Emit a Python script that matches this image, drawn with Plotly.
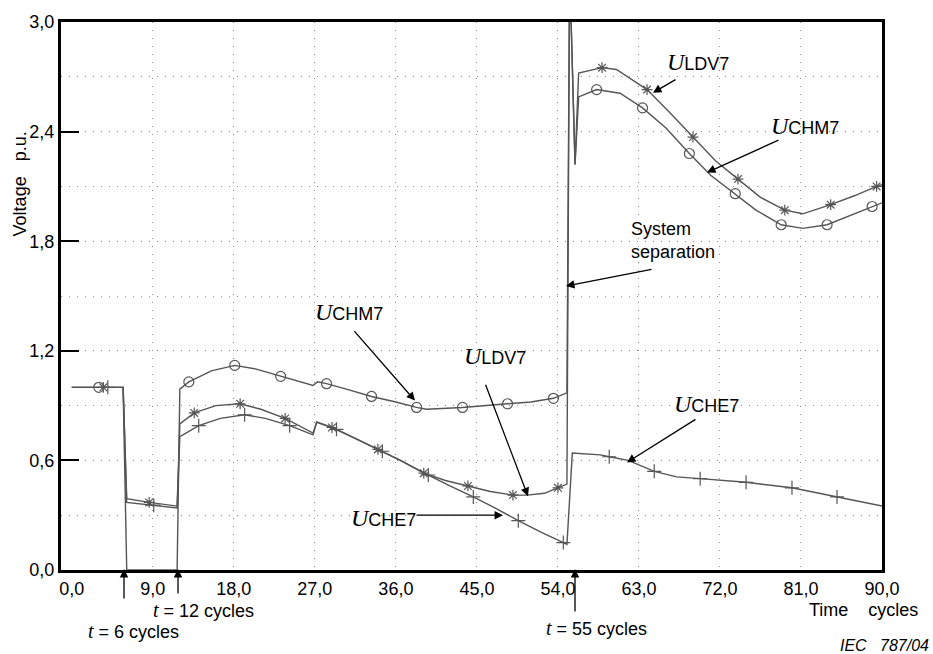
import plotly.graph_objects as go

# ---------------- data ----------------
chm7_x = [0, 5.7, 6.1, 11.7, 12.0, 13.0, 15.5, 18.1, 20.5, 23.2, 25.5, 26.8, 27.3, 28.3,
          30.5, 33.3, 36.0, 38.3, 39.4, 43.4, 48.4, 51.0, 53.5, 55.0, 55.3, 55.9, 56.3,
          58.3, 60.9, 63.4, 66.0, 68.6, 71.0, 73.7, 76.0, 78.8, 81.2, 83.9, 86.5, 88.9, 90.0]
chm7_y = [1.0, 1.0, 0.0, 0.0, 0.99, 1.03, 1.09, 1.12, 1.10, 1.06, 1.03, 1.01, 1.03, 1.02,
          0.99, 0.95, 0.92, 0.89, 0.88, 0.89, 0.91, 0.92, 0.94, 0.97, 3.3, 2.22, 2.59,
          2.63, 2.61, 2.53, 2.42, 2.28, 2.16, 2.06, 1.97, 1.89, 1.87, 1.89, 1.94, 1.99, 2.01]

ldv7_x = [0, 5.7, 6.1, 8.6, 11.7, 12.0, 13.6, 16.0, 18.7, 21.0, 23.7, 26.8, 27.2, 28.9,
          31.5, 34.0, 36.5, 39.1, 41.5, 44.0, 46.5, 49.0, 50.6, 52.5, 54.0, 55.0, 55.3,
          55.9, 56.3, 58.9, 60.5, 63.9, 66.5, 69.0, 71.5, 74.0, 76.5, 79.2, 81.2, 84.3,
          87.0, 89.4, 90.0]
ldv7_y = [1.0, 1.0, 0.39, 0.37, 0.35, 0.80, 0.86, 0.90, 0.91, 0.88, 0.83, 0.75, 0.81, 0.78,
          0.72, 0.66, 0.60, 0.53, 0.49, 0.46, 0.43, 0.41, 0.41, 0.42, 0.45, 0.47, 3.3,
          2.22, 2.72, 2.75, 2.74, 2.63, 2.50, 2.37, 2.24, 2.14, 2.04, 1.97, 1.95, 2.00,
          2.05, 2.10, 2.11]

che7_x = [0, 5.7, 6.1, 9.1, 11.7, 12.0, 14.1, 16.5, 19.2, 21.5, 24.2, 26.8, 27.2, 29.4,
          31.5, 34.5, 36.5, 39.6, 42.0, 44.6, 47.0, 49.6, 52.0, 54.6, 55.0, 55.6, 58.7,
          59.7, 61.8, 64.7, 67.2, 69.8, 74.9, 80.0, 85.0, 90.0]
che7_y = [1.0, 1.0, 0.37, 0.355, 0.34, 0.73, 0.79, 0.83, 0.85, 0.83, 0.79, 0.74, 0.81, 0.77,
          0.72, 0.65, 0.60, 0.52, 0.46, 0.40, 0.34, 0.27, 0.21, 0.15, 0.14, 0.64, 0.63,
          0.62, 0.60, 0.54, 0.51, 0.50, 0.48, 0.45, 0.40, 0.35]

chm7_mx = [3.0, 13.0, 18.1, 23.2, 28.3, 33.3, 38.3, 43.4, 48.4, 53.5, 58.3, 63.4, 68.6,
           73.7, 78.8, 83.9, 88.9]
chm7_my = [1.0, 1.03, 1.12, 1.06, 1.02, 0.95, 0.89, 0.89, 0.91, 0.94, 2.63, 2.53, 2.28,
           2.06, 1.89, 1.89, 1.99]
ldv7_mx = [3.5, 8.6, 13.6, 18.7, 23.7, 28.9, 34.0, 39.1, 44.0, 49.0, 54.0, 58.9, 63.9,
           69.0, 74.0, 79.2, 84.3, 89.4]
ldv7_my = [1.0, 0.37, 0.86, 0.91, 0.83, 0.78, 0.66, 0.53, 0.46, 0.41, 0.45, 2.75, 2.63,
           2.37, 2.14, 1.97, 2.00, 2.10]
che7_mx = [4.0, 9.1, 14.1, 19.2, 24.2, 29.4, 34.5, 39.6, 44.6, 49.6, 54.6, 59.7, 64.7,
           69.8, 74.9, 80.0, 85.0]
che7_my = [1.0, 0.355, 0.79, 0.85, 0.79, 0.77, 0.65, 0.52, 0.40, 0.27, 0.15, 0.62, 0.54,
           0.50, 0.48, 0.45, 0.40]

x_ticks = [0, 9, 18, 27, 36, 45, 54, 63, 72, 81, 90]
x_ticktext = ["0,0", "9,0", "18,0", "27,0", "36,0", "45,0", "54,0", "63,0", "72,0", "81,0", "90,0"]
x_grid = [9, 18, 27, 36, 45, 54, 63, 72, 81]
y_ticks = [0, 0.6, 1.2, 1.8, 2.4, 3.0]
y_ticktext = ["0,0", "0,6", "1,2", "1,8", "2,4", "3,0"]
y_grid = [0.3, 0.6, 0.9, 1.2, 1.5, 1.8, 2.1, 2.4, 2.7]

# ---------------- figure ----------------
W, H = 933, 654
L, R, T, B = 61, 51, 20, 84
PW, PH = W - L - R, H - T - B

LINE_C = "#555555"
SANS = "Liberation Sans, Arial, sans-serif"
SERIF = "Liberation Serif, Times New Roman, serif"
FS = 18

fig = go.Figure()
for xs, ys in [(chm7_x, chm7_y), (ldv7_x, ldv7_y), (che7_x, che7_y)]:
    fig.add_trace(go.Scatter(x=xs, y=ys, mode="lines",
                             line=dict(color=LINE_C, width=1.4), showlegend=False,
                             hoverinfo="skip"))
for xs, ys, sym, sz in [(chm7_mx, chm7_my, "circle-open", 10),
                        (ldv7_mx, ldv7_my, "asterisk-open", 9),
                        (che7_mx, che7_my, "cross-thin-open", 10)]:
    fig.add_trace(go.Scatter(x=xs, y=ys, mode="markers",
                             marker=dict(symbol=sym, size=sz, color=LINE_C,
                                         line=dict(color=LINE_C, width=1.2)),
                             showlegend=False, hoverinfo="skip"))


def px_x(p):
    return (p - L) / PW


def px_y(p):
    return (H - B - p) / PH


def U(sub):
    return ('<span style="font-family:%s;font-size:24px"><i>U</i></span>%s' % (SERIF, sub))


def T_(rest):
    return ('<span style="font-family:%s;font-size:20px"><i>t</i></span>%s' % (SERIF, rest))


anns = []


def label(text, x, y, xanchor="left", size=FS):
    anns.append(dict(text=text, x=px_x(x), y=px_y(y), xref="paper", yref="paper",
                     xanchor=xanchor, yanchor="middle", showarrow=False, align="left",
                     font=dict(family=SANS, size=size, color="black")))


def arrow(tx, ty, hx, hy):
    anns.append(dict(text="", x=px_x(hx), y=px_y(hy), xref="paper", yref="paper",
                     ax=tx - hx, ay=ty - hy, axref="pixel", ayref="pixel",
                     showarrow=True, arrowhead=2, arrowsize=1.3, arrowwidth=1.3,
                     arrowcolor="black", standoff=0, startstandoff=0))


label(U("LDV7"), 665, 60)
arrow(677, 77, 653, 91)
label(U("CHM7"), 769, 124)
arrow(780, 138, 707, 171)
label(U("CHM7"), 313, 311)
arrow(353, 329, 415, 400)
label(U("LDV7"), 462, 355)
arrow(485, 383, 528, 496)
label(U("CHE7"), 349, 518)
arrow(415, 515, 503, 515)
label(U("CHE7"), 672, 403)
arrow(697, 418, 627, 462)
label("System<br>separation", 629, 239)
arrow(653, 268, 566, 285)

label(T_(" = 6 cycles"), 86, 631)
arrow(124, 600, 124, 569)
label(T_(" = 12 cycles"), 151, 610)
arrow(178, 595, 178, 569)
label(T_(" = 55 cycles"), 544, 628)
arrow(575, 613, 575, 569)
label("Time\u00a0\u00a0\u00a0\u00a0cycles", 807, 610)
label("<i>IEC\u00a0\u00a0\u00a0787/04</i>", 931, 646, xanchor="right", size=16)

anns.append(dict(text="Voltage\u00a0\u00a0\u00a0p.u.", x=px_x(20), y=px_y(183),
                 xref="paper", yref="paper", textangle=-90, showarrow=False,
                 xanchor="center", yanchor="middle",
                 font=dict(family=SANS, size=FS, color="black")))

fig.update_layout(
    width=W, height=H,
    margin=dict(l=L, r=R, t=T, b=B, pad=0),
    paper_bgcolor="white", plot_bgcolor="white",
    annotations=anns,
    font=dict(family=SANS, size=FS, color="black"),
    xaxis=dict(range=[-1.2, 90], tickmode="array", tickvals=x_ticks, ticktext=x_ticktext,
               showgrid=False, zeroline=False, ticks="",
               showline=True, linecolor="black", linewidth=3, mirror=True,
               tickfont=dict(family=SANS, size=FS, color="black"),
               minor=dict(tickmode="array", tickvals=x_grid, showgrid=True,
                          gridcolor="#8a8a8a", griddash="1px,7px", gridwidth=1.2,
                          ticks="")),
    yaxis=dict(range=[0, 3.0], tickmode="array", tickvals=y_ticks, ticktext=y_ticktext,
               showgrid=False, zeroline=False, ticks="inside", ticklen=18, tickwidth=1.5,
               tickcolor="black",
               showline=True, linecolor="black", linewidth=3, mirror=True,
               tickfont=dict(family=SANS, size=FS, color="black"),
               minor=dict(tickmode="array", tickvals=y_grid, showgrid=True,
                          gridcolor="#8a8a8a", griddash="1px,7px", gridwidth=1.2,
                          ticks="")),
)

fig.write_html("out.html", config={"displayModeBar": False},
               post_script="document.body.style.margin='0';document.body.style.overflow='hidden';")
